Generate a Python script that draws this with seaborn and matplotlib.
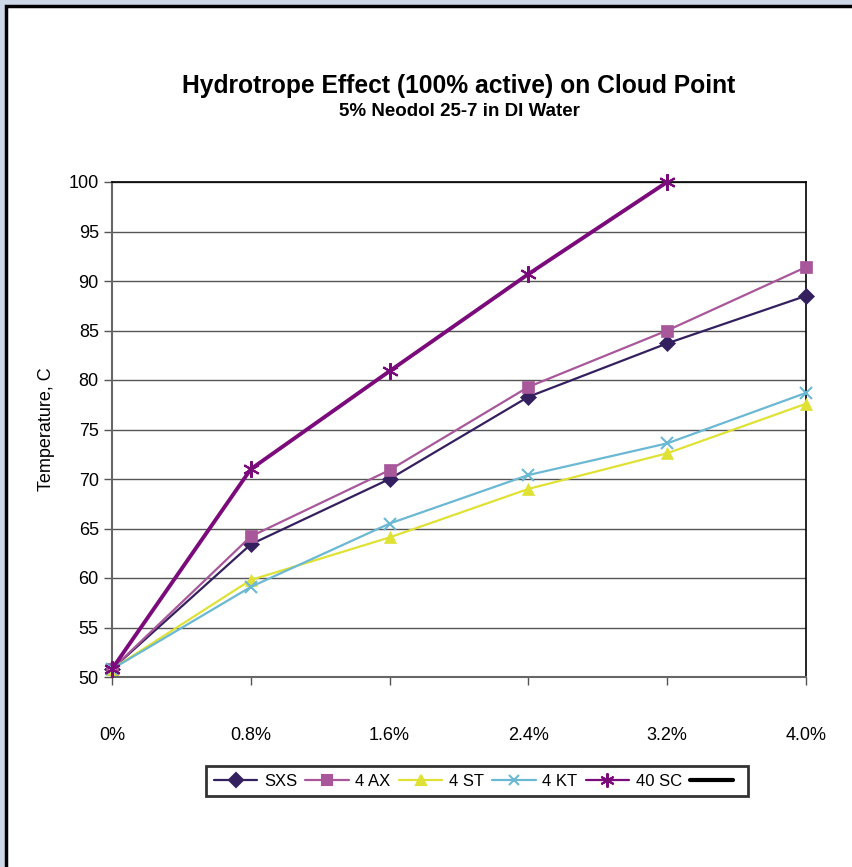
import matplotlib
matplotlib.use('Agg')
import matplotlib.pyplot as plt
import matplotlib.patches as patches
from matplotlib.lines import Line2D
import seaborn as sns
import pandas as pd

# hydrotrope concentration (%)
konsentrasi = [0.0, 0.8, 1.6, 2.4, 3.2, 4.0]
label_x = ['0%', '0.8%', '1.6%', '2.4%', '3.2%', '4.0%']

sxs = [50.8, 63.4, 70.0, 78.3, 83.7, 88.5]
ax4 = [50.8, 64.2, 70.9, 79.3, 85.0, 91.4]
st4 = [50.8, 59.8, 64.1, 69.0, 72.6, 77.6]
kt4 = [50.8, 59.1, 65.5, 70.4, 73.6, 78.7]
sc40 = [50.8, 71.0, 80.9, 90.7, 100.0]

seri = ['SXS', '4 AX', '4 ST', '4 KT', '40 SC']
nilai = [sxs, ax4, st4, kt4, sc40]
warna = ['#35205f', '#a8579a', '#dfe234', '#6ab8d3', '#7b0b7a']
marker = ['D', 's', '^', 'x', (6, 2, 0)]
ukuran = [8, 9, 9, 9, 12]
tebal = [1.6, 1.6, 1.6, 1.6, 2.8]

sns.set_style('white')
plt.rcParams['font.family'] = ['Liberation Sans', 'DejaVu Sans']
plt.rcParams['text.color'] = 'black'
plt.rcParams['axes.labelcolor'] = 'black'
plt.rcParams['xtick.color'] = 'black'
plt.rcParams['ytick.color'] = 'black'

fig = plt.figure(figsize=(8.53, 8.67), dpi=100)
fig.patch.set_facecolor('#ccd8e8')
fig.patches.append(patches.Rectangle((6 / 853, -0.05), 1.0, 1 - 6 / 867 + 0.05,
                                     transform=fig.transFigure, facecolor='white',
                                     edgecolor='black', linewidth=2.5, zorder=-1))

ax = fig.add_axes([112 / 853, 1 - 677 / 867, 694 / 853, 495 / 867])
ax.set_zorder(2)
ax.set_facecolor('white')

for nama, v, c, m, s, lw in zip(seri, nilai, warna, marker, ukuran, tebal):
    df = pd.DataFrame({'x': konsentrasi[:len(v)], 'y': v})
    sns.lineplot(data=df, x='x', y='y', ax=ax, color=c, marker=m, markersize=s,
                 linewidth=lw, markeredgecolor=c,
                 markeredgewidth=1.5 if m in ('x', (6, 2, 0)) else 0.5,
                 clip_on=False, zorder=3)

ax.set_xlim(0, 4)
ax.set_ylim(50, 100)
ax.set_yticks(range(50, 101, 5))
ax.set_xticks(konsentrasi)
ax.set_xticklabels(label_x)
ax.yaxis.grid(True, color='#555555', linewidth=1.0)
ax.xaxis.grid(False)
ax.tick_params(axis='y', labelsize=13, length=6, width=1, color='#555555', direction='out', left=True)
ax.tick_params(axis='x', labelsize=13, length=6, width=1, color='#555555', direction='out', bottom=True, pad=30)
for sp in ['left', 'bottom']:
    ax.spines[sp].set_color('#666666')
    ax.spines[sp].set_linewidth(1.5)
for sp in ['top', 'right']:
    ax.spines[sp].set_color('black')
    ax.spines[sp].set_linewidth(1.2)
ax.set_xlabel('')
ax.set_ylabel('Temperature, C', fontsize=13)
ax.yaxis.set_label_coords((55 - 112) / 694, 0.5)

fig.text(459 / 853, 1 - 86 / 867, 'Hydrotrope Effect (100% active) on Cloud Point',
         ha='center', va='center', fontsize=17.7, fontweight='bold')
fig.text(459 / 853, 1 - 111 / 867, '5% Neodol 25-7 in DI Water',
         ha='center', va='center', fontsize=13.5, fontweight='bold')

handles = [Line2D([], [], color=c, marker=m, markersize=s * 0.85, linewidth=1.6,
                  markeredgecolor=c, markeredgewidth=1.5)
           for c, m, s in zip(warna, marker, ukuran)]
handles.append(Line2D([], [], color='black', linewidth=3))
leg = fig.legend(handles, seri + [''], loc='center', bbox_to_anchor=(477 / 853, 1 - 781 / 867),
                 ncol=6, fontsize=12, frameon=True, fancybox=False, handlelength=2.6,
                 handletextpad=0.4, columnspacing=0.5, borderpad=0.45)
leg.get_frame().set_edgecolor('black')
leg.get_frame().set_linewidth(2)

plt.savefig('out.png', dpi=100)
